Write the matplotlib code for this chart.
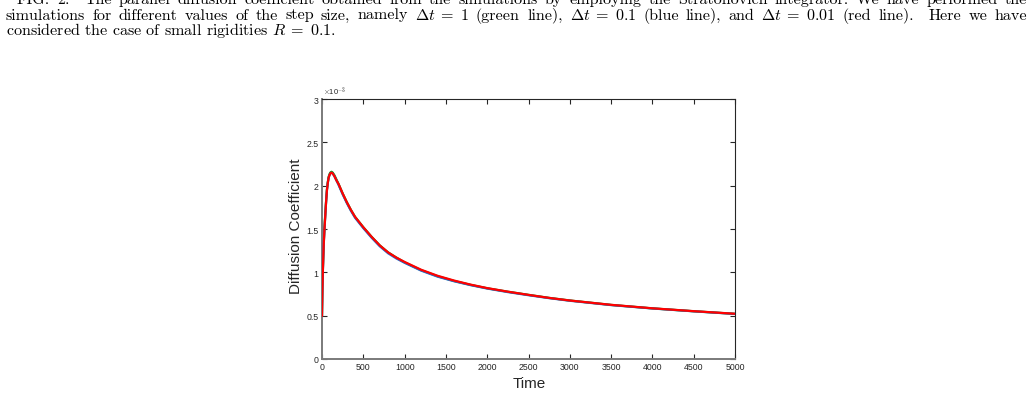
import matplotlib
matplotlib.use("Agg")
import matplotlib.pyplot as plt

# ---------------- data (diffusion coefficient in units of 1e-3) ----------------
time = [0, 5, 10, 20, 30, 40, 50, 60, 70, 80, 90, 100, 115, 130, 150, 175, 200,
        250, 300, 350, 400, 500, 600, 700, 800, 900, 1000, 1200, 1400, 1600,
        1800, 2000, 2250, 2500, 2750, 3000, 3500, 4000, 4500, 5000]
red_dt001 = [0.50, 0.80, 1.00, 1.30, 1.50, 1.66, 1.82, 1.95, 2.03, 2.09, 2.12, 2.14,
             2.15, 2.14, 2.11, 2.06, 2.02, 1.91, 1.81, 1.72, 1.64, 1.52, 1.41, 1.31,
             1.23, 1.17, 1.12, 1.03, 0.96, 0.905, 0.858, 0.818, 0.777, 0.740, 0.705,
             0.675, 0.625, 0.585, 0.552, 0.522]
blue_dt01 = [0.50, 0.80, 1.00, 1.30, 1.50, 1.66, 1.82, 1.95, 2.03, 2.09, 2.12, 2.14,
             2.15, 2.14, 2.11, 2.06, 2.01, 1.90, 1.80, 1.71, 1.63, 1.51, 1.40, 1.30,
             1.22, 1.16, 1.11, 1.02, 0.95, 0.897, 0.852, 0.813, 0.772, 0.736, 0.702,
             0.672, 0.622, 0.583, 0.550, 0.520]
green_dt1 = [0.50, 0.82, 1.02, 1.32, 1.52, 1.68, 1.83, 1.96, 2.04, 2.10, 2.13, 2.15,
             2.16, 2.15, 2.12, 2.07, 2.02, 1.91, 1.81, 1.72, 1.64, 1.52, 1.41, 1.31,
             1.23, 1.17, 1.115, 1.025, 0.955, 0.90, 0.855, 0.816, 0.776, 0.740, 0.705,
             0.675, 0.624, 0.584, 0.551, 0.521]

xticks = [0, 500, 1000, 1500, 2000, 2500, 3000, 3500, 4000, 4500, 5000]
yticks = [0, 0.5, 1, 1.5, 2, 2.5, 3]
ytick_labels = ["0", "0.5", "1", "1.5", "2", "2.5", "3"]

caption_lines = [
    ["FIG.", "2:", "", "The", "parallel", "diffusion", "coefficient", "obtained", "from", "the",
     "simulations", "by", "employing", "the", "Stratonovich", "integrator.", "We", "have",
     "performed", "the"],
    ["simulations", "for", "different", "values", "of", "the", "step", "size,", "namely",
     r"$\Delta t\;=\;1$", "(green", "line),", r"$\Delta t\;=\;0.1$", "(blue", "line),", "and",
     r"$\Delta t\;=\;0.01$", "(red", "line).", "", "Here", "we", "have"],
    ["considered", "the", "case", "of", "small", "rigidities", r"$R\;=\;0.1$."],
]

# ---------------- figure ----------------
W, H = 1034, 406
plt.rcParams["mathtext.fontset"] = "cm"
fig = plt.figure(figsize=(W / 100, H / 100), dpi=100)
ax = fig.add_axes([322 / W, 1 - 360 / H, 413 / W, 260 / H])

ax.plot(time, green_dt1, color="#00a000", lw=1.6, zorder=2)
ax.plot(time, blue_dt01, color="#1f6fd0", lw=1.6, zorder=3)
ax.plot(time, red_dt001, color="#ff0000", lw=1.6, zorder=4)

ax.set_xlim(0, 5000)
ax.set_ylim(0, 3)
ax.set_xticks(xticks)
ax.set_xticklabels([str(v) for v in xticks])
ax.set_yticks(yticks)
ax.set_yticklabels(ytick_labels)
ax.tick_params(direction="in", length=3.5, width=0.8, labelsize=6.3,
               colors="#262626", top=True, right=True, pad=2.5)
for s in ["left", "bottom"]:
    ax.spines[s].set_color("#7a7a7a")
    ax.spines[s].set_linewidth(1.4)
for s in ["top", "right"]:
    ax.spines[s].set_color("#262626")
    ax.spines[s].set_linewidth(0.8)
for lab in ax.get_xticklabels() + ax.get_yticklabels():
    lab.set_family("Liberation Sans")

fig.text(323 / W, 1 - 95 / H, r"$\times$10$^{-3}$", fontsize=5.5,
         family="Liberation Sans", color="#262626", va="baseline", ha="left")
fig.text(296 / W, 1 - 226 / H, "Diffusion Coefficient", rotation=90, fontsize=11,
         family="Liberation Sans", color="#262626", ha="center", va="center")
fig.text(529 / W, 1 - 384 / H, "Time", fontsize=11, family="Liberation Sans",
         color="#262626", ha="center", va="center")

# ---------------- caption (justified) ----------------
renderer = fig.canvas.get_renderer()

probe = fig.text(0, 0, " ".join(w for w in caption_lines[1] if w), fontsize=10,
                 family="cmr10")
w10 = probe.get_window_extent(renderer=renderer).width
probe.remove()
fs = 10 * (1021 - 6) / w10 * 0.96

baselines = [4, 19.5, 35]
starts = [17, 6, 6]
justify = [True, True, False]
right_edge = 1027
for words, yb, x0, just in zip(caption_lines, baselines, starts, justify):
    if not just:
        fig.text(x0 / W, 1 - yb / H, " ".join(words), fontsize=fs, family="cmr10",
                 va="baseline", ha="left", color="black")
        continue
    items = []
    for w in words:
        t = fig.text(0, 0, w if w else " ", fontsize=fs, family="cmr10",
                     va="baseline", ha="left", color="black")
        bb = t.get_window_extent(renderer=renderer)
        items.append((t, bb.width if w else 0.0))
    total = sum(wd for _, wd in items)
    gap = (right_edge - x0 - total) / (len(items) - 1)
    x = x0
    for t, wd in items:
        t.set_position((x / W, 1 - yb / H))
        x += wd + gap

fig.savefig("out.png", dpi=100)
